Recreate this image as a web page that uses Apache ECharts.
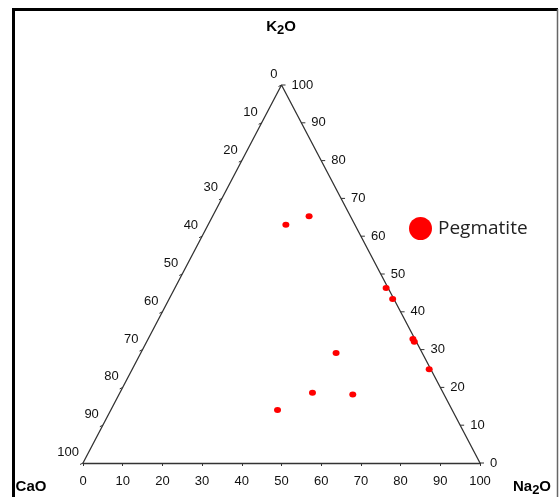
<!DOCTYPE html>
<html>
<head>
<meta charset="utf-8">
<script src="https://cdn.jsdelivr.net/npm/echarts@6/dist/echarts.min.js"></script>
<style>
  html, body { margin: 0; padding: 0; background: #fff; }
  #chart { width: 560px; height: 497px; }
</style>
</head>
<body>
<div id="chart"></div>
<script>
// Ternary composition (wt. %) of the pegmatite samples: CaO – Na2O – K2O
const sampleCaO  = [17.4, 10.4, 0.5, 0.3, 0.5, 0.5, 0.4, 21.7, 32.9, 23.0, 44.0];
const sampleNa2O = [19.6, 24.3, 53.2, 56.3, 66.7, 67.4, 74.8, 49.2, 48.5, 58.9, 42.0];
const sampleK2O  = [63.0, 65.3, 46.3, 43.4, 32.8, 32.1, 24.8, 29.1, 18.6, 18.1, 14.0];

// Percentage ticks along each side of the triangle
const sideTicks = [0, 10, 20, 30, 40, 50, 60, 70, 80, 90, 100];

const seriesName = 'Pegmatite';
const FONT = '"Liberation Sans", Arial, sans-serif';
const INK = '#111';

// Ternary -> cartesian: K2O apex on top, CaO bottom-left, Na2O bottom-right
function toXY(ca, na, k) {
  const s = ca + na + k;
  const n = na / s * 100, kk = k / s * 100;
  return [n + kk / 2, kk];
}

const points = sampleCaO.map((c, i) => toXY(c, sampleNa2O[i], sampleK2O[i]));
const triangle = [toXY(100, 0, 0), toXY(0, 0, 100), toXY(0, 100, 0)];

// Left side reads CaO (0 at apex, 100 at CaO corner)
const leftTickData = sideTicks.map(v => toXY(v, 0, 100 - v).concat([v]));
// Right side reads K2O (100 at apex, 0 at Na2O corner)
const rightTickData = sideTicks.map(v => toXY(0, 100 - v, v).concat([v]));

function sideTickRenderer(side) {
  return function (params, api) {
    const p = api.coord([api.value(0), api.value(1)]);
    const label = String(api.value(2));
    if (side === 'left') {
      return {
        type: 'group',
        children: [
          { type: 'line', shape: { x1: p[0], y1: p[1], x2: p[0] - 3, y2: p[1] + 1.5 },
            style: { stroke: '#333', lineWidth: 1 } },
          { type: 'text', style: { text: label, x: p[0] - 4, y: p[1] - 10.5,
            align: 'right', verticalAlign: 'middle', fontSize: 13, fontFamily: FONT, fill: INK } }
        ]
      };
    }
    return {
      type: 'group',
      children: [
        { type: 'line', shape: { x1: p[0], y1: p[1], x2: p[0] + 4, y2: p[1] },
          style: { stroke: '#333', lineWidth: 1 } },
        { type: 'text', style: { text: label, x: p[0] + 10, y: p[1],
          align: 'left', verticalAlign: 'middle', fontSize: 13, fontFamily: FONT, fill: INK } }
      ]
    };
  };
}

const oxideRich = {
  a: { fontSize: 15, fontFamily: FONT, fill: '#000', fontWeight: 'bold', verticalAlign: 'top', lineHeight: 16 },
  s: { fontSize: 13, fontFamily: FONT, fill: '#000', fontWeight: 'bold', verticalAlign: 'top', lineHeight: 16, padding: [5, 0, 0, 0] }
};

const chart = echarts.init(document.getElementById('chart'));
chart.setOption({
  animation: false,
  backgroundColor: '#fff',
  grid: { left: 83, right: 80, top: 85, bottom: 34 },
  xAxis: {
    type: 'value', min: 0, max: 100, interval: 10,
    axisLine: { show: true, lineStyle: { color: '#333', width: 1.3 } },
    axisTick: { show: true, length: 3, lineStyle: { color: '#333' } },
    axisLabel: { margin: 12, fontSize: 13, fontFamily: FONT, color: INK },
    splitLine: { show: false }
  },
  yAxis: { type: 'value', min: 0, max: 100, show: false },
  legend: {
    data: [{ name: seriesName, icon: 'circle' }],
    left: 409, top: 217, padding: 0, itemWidth: 23, itemHeight: 23,
    textStyle: { fontSize: 19, fontFamily: '"Open Sans", sans-serif', color: '#222', padding: [0, 0, 0, 1] }
  },
  graphic: [
    { type: 'line', shape: { x1: 12, y1: 9.5, x2: 558, y2: 9.5 }, style: { stroke: '#000', lineWidth: 3 } },
    { type: 'line', shape: { x1: 13.5, y1: 8, x2: 13.5, y2: 497 }, style: { stroke: '#000', lineWidth: 3 } },
    { type: 'line', shape: { x1: 557.5, y1: 9, x2: 557.5, y2: 497 }, style: { stroke: '#666', lineWidth: 1.5 } },
    { type: 'text', x: 281, y: 19, style: { text: '{a|K}{s|2}{a|O}', rich: oxideRich, align: 'center' } },
    { type: 'text', x: 532, y: 479, style: { text: '{a|Na}{s|2}{a|O}', rich: oxideRich, align: 'center' } },
    { type: 'text', x: 31, y: 479, style: { text: '{a|CaO}', rich: oxideRich, align: 'center' } }
  ],
  series: [
    {
      type: 'line', data: triangle, symbol: 'none', silent: true,
      lineStyle: { color: '#333', width: 1.3 }, z: 1
    },
    { type: 'custom', data: leftTickData, renderItem: sideTickRenderer('left'), silent: true, z: 2 },
    { type: 'custom', data: rightTickData, renderItem: sideTickRenderer('right'), silent: true, z: 2 },
    {
      name: seriesName, type: 'scatter', data: points,
      symbol: 'circle', symbolSize: [7, 6],
      itemStyle: { color: '#ff0000', opacity: 1 }, z: 5
    }
  ]
});
</script>
</body>
</html>
